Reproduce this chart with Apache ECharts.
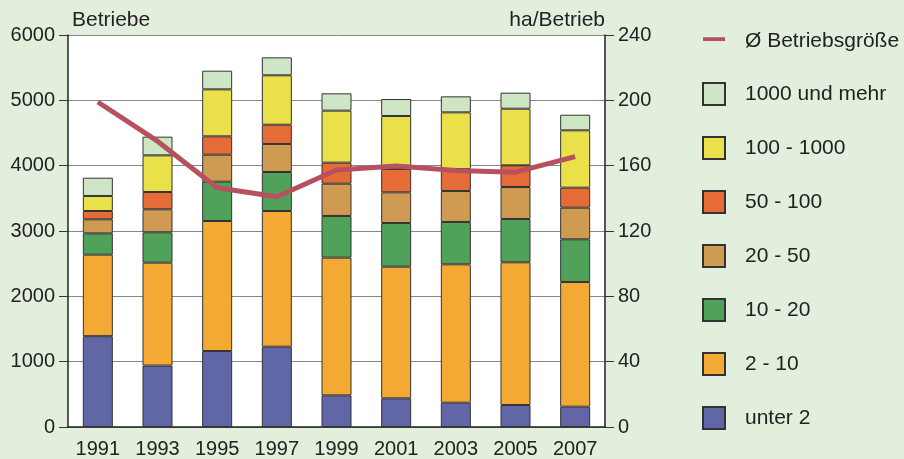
<!DOCTYPE html>
<html>
<head>
<meta charset="utf-8">
<script src="https://cdn.jsdelivr.net/npm/echarts@6/dist/echarts.min.js"></script>
<style>
  html, body { margin: 0; padding: 0; background: #e2efdd; }
  #chart { width: 904px; height: 459px; }
</style>
</head>
<body>
<div id="chart"></div>
<script>
// Jahre
const years = ['1991', '1993', '1995', '1997', '1999', '2001', '2003', '2005', '2007'];

// Betriebe nach Größenklassen (ha), von unten nach oben
const unter2    = [1390, 940, 1163, 1229, 485, 439, 372, 337, 311];
const ha2_10    = [1248, 1575, 1990, 2077, 2107, 2015, 2118, 2184, 1908];
const ha10_20   = [326, 465, 602, 597, 638, 668, 648, 663, 654];
const ha20_50   = [215, 352, 413, 429, 494, 470, 474, 489, 484];
const ha50_100  = [127, 265, 281, 295, 322, 358, 337, 332, 306];
const ha100_1000 = [230, 561, 719, 756, 796, 810, 867, 867, 878];
const ha1000    = [280, 286, 286, 275, 265, 260, 245, 245, 239];

// durchschnittliche Betriebsgröße (ha/Betrieb)
const groesse = [199, 175, 146.5, 141, 157.4, 159.8, 157, 156, 165.5];

const font = "'Liberation Sans', Arial, sans-serif";
const txt = '#222';
// Linien-Symbol für die Legende (winzige Ecken halten die Box quadratisch)
const lineIcon = 'path://M0,0h0.01v0.01h-0.01z M-2,6h26v4.5h-26z M22,22h0.01v0.01h-0.01z';

function bar(name, data, color) {
  return {
    name: name,
    type: 'bar',
    stack: 'betriebe',
    barWidth: 30,
    data: data,
    itemStyle: { color: color, borderColor: '#333', borderWidth: 1 }
  };
}

let chart = echarts.init(document.getElementById('chart'));
chart.setOption({
  backgroundColor: '#e2efdd',
  animation: false,
  textStyle: { fontFamily: font },
  grid: {
    left: 68, right: 299, top: 35, bottom: 32,
    show: true, backgroundColor: '#fff', borderWidth: 0
  },
  legend: {
    orient: 'vertical',
    left: 697,
    top: 26,
    itemWidth: 22,
    itemHeight: 22,
    itemGap: 30,
    icon: 'rect',
    textStyle: { fontSize: 21, color: txt, fontFamily: font, padding: [0, 0, 0, 15] },
    data: [
      { name: 'Ø Betriebsgröße', icon: lineIcon },
      '1000 und mehr', '100 - 1000', '50 - 100', '20 - 50', '10 - 20', '2 - 10', 'unter 2'
    ]
  },
  xAxis: {
    type: 'category',
    data: years,
    axisTick: { show: false },
    axisLine: { lineStyle: { color: '#222', width: 1.5 } },
    axisLabel: { fontSize: 20, color: txt, margin: 12, fontFamily: font }
  },
  yAxis: [{
    type: 'value',
    min: 0, max: 6000, interval: 1000,
    name: 'Betriebe',
    nameLocation: 'end',
    nameGap: 4,
    nameTextStyle: { fontSize: 21, color: txt, align: 'left', fontFamily: font, padding: [0, 0, 0, 4] },
    axisLine: { show: true, lineStyle: { color: '#222', width: 1.5 } },
    axisTick: { show: true, length: 9, lineStyle: { color: '#333' } },
    axisLabel: { fontSize: 20, color: txt, margin: 13, fontFamily: font, formatter: v => String(v) },
    splitLine: { lineStyle: { color: '#888', width: 1 } }
  }, {
    type: 'value',
    position: 'right',
    min: 0, max: 240, interval: 40,
    name: 'ha/Betrieb',
    nameLocation: 'end',
    nameGap: 4,
    nameTextStyle: { fontSize: 21, color: txt, align: 'right', fontFamily: font },
    axisLine: { show: true, lineStyle: { color: '#222', width: 1.5 } },
    axisTick: { show: true, length: 9, lineStyle: { color: '#333' } },
    axisLabel: { fontSize: 20, color: txt, margin: 13, fontFamily: font },
    splitLine: { show: false }
  }],
  series: [
    bar('unter 2', unter2, '#6066a6'),
    bar('2 - 10', ha2_10, '#f4a934'),
    bar('10 - 20', ha10_20, '#50a25b'),
    bar('20 - 50', ha20_50, '#cf9a52'),
    bar('50 - 100', ha50_100, '#e66c37'),
    bar('100 - 1000', ha100_1000, '#eae049'),
    bar('1000 und mehr', ha1000, '#cee6c6'),
    {
      name: 'Ø Betriebsgröße',
      type: 'line',
      yAxisIndex: 1,
      data: groesse,
      symbol: 'none',
      z: 5,
      itemStyle: { color: '#b8515f' },
      lineStyle: { color: '#b8515f', width: 5 }
    }
  ]
});
</script>
</body>
</html>
